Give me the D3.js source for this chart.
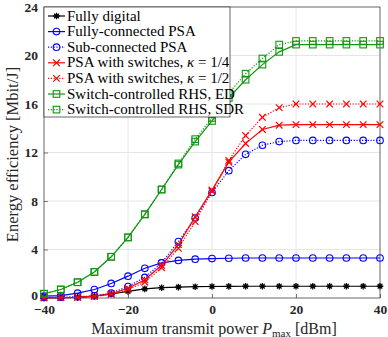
<!DOCTYPE html>
<html>
<head>
<meta charset="utf-8">
<script src="https://cdn.jsdelivr.net/npm/d3@7"></script>
<style>
  body { margin: 0; background: #fff; }
  svg { display: block; font-family: "Liberation Serif", "DejaVu Serif", serif; }
</style>
</head>
<body>
<div id="chart"></div>
<script>
'use strict';

// transmit power in dBm
var power = [-40, -36, -32, -28, -24, -20, -16, -12, -8, -4, 0, 4, 8, 12, 16, 20, 24, 28, 32, 36, 40];

var fullyDigital   = [0.0, 0.02, 0.05, 0.15, 0.33, 0.55, 0.75, 0.85, 0.9, 0.93, 0.95, 0.96, 0.97, 0.97, 0.97, 0.97, 0.97, 0.97, 0.97, 0.97, 0.97];
var fullyConnPSA   = [0.15, 0.2, 0.4, 0.7, 1.2, 1.8, 2.45, 2.9, 3.1, 3.2, 3.25, 3.28, 3.3, 3.3, 3.3, 3.3, 3.3, 3.3, 3.3, 3.3, 3.3];
var subConnPSA     = [0.05, 0.07, 0.1, 0.18, 0.4, 0.95, 1.7, 2.9, 4.65, 6.6, 8.7, 10.5, 11.85, 12.6, 12.9, 13.0, 13.0, 13.0, 13.0, 13.0, 13.0];
var switchQuarter  = [0.02, 0.03, 0.05, 0.15, 0.35, 0.8, 1.5, 2.7, 4.4, 6.7, 8.9, 11.2, 12.75, 13.9, 14.25, 14.3, 14.3, 14.3, 14.3, 14.3, 14.3];
var switchHalf     = [0.02, 0.03, 0.05, 0.13, 0.3, 0.7, 1.3, 2.5, 4.1, 6.3, 8.8, 11.35, 13.4, 14.9, 15.7, 16.0, 16.0, 16.0, 16.0, 16.0, 16.0];
var rhsED          = [0.35, 0.7, 1.3, 2.15, 3.4, 5.0, 6.9, 8.95, 11.0, 12.9, 14.6, 16.5, 18.0, 19.25, 20.3, 20.9, 20.9, 20.9, 20.9, 20.9, 20.9];
var rhsSDR         = [0.35, 0.7, 1.3, 2.15, 3.4, 5.0, 6.9, 8.95, 11.1, 13.1, 14.85, 16.9, 18.5, 19.75, 20.9, 21.2, 21.2, 21.2, 21.2, 21.2, 21.2];

var xTicks = [-40, -20, 0, 20, 40];
var yTicks = [0, 4, 8, 12, 16, 20, 24];

var green = '#129612';

var series = [
    { name: 'Fully digital', values: fullyDigital, color: '#000', dash: null, marker: 'star' },
    { name: 'Fully-connected PSA', values: fullyConnPSA, color: '#0000ff', dash: null, marker: 'circle' },
    { name: 'Sub-connected PSA', values: subConnPSA, color: '#0000ff', dash: '1.2,1.6', marker: 'circle' },
    { name: 'PSA with switches, ', kappa: '1/4', values: switchQuarter, color: '#ff0000', dash: null, marker: 'cross' },
    { name: 'PSA with switches, ', kappa: '1/2', values: switchHalf, color: '#ff0000', dash: '1.2,1.6', marker: 'cross' },
    { name: 'Switch-controlled RHS, ED', values: rhsED, color: green, dash: null, marker: 'square' },
    { name: 'Switch-controlled RHS, SDR', values: rhsSDR, color: green, dash: '1.2,1.6', marker: 'square' }
];

var W = 388, H = 337;
var margin = { top: 7, right: 8, bottom: 39, left: 44 };

var svg = d3.select('#chart').append('svg')
    .attr('width', W)
    .attr('height', H);

var x = d3.scaleLinear().domain([-40, 40]).range([margin.left, W - margin.right]);
var y = d3.scaleLinear().domain([0, 24]).range([H - margin.bottom, margin.top]);

// grid
svg.append('g').selectAll('line.gx')
    .data(xTicks.slice(1, -1))
    .enter().append('line')
    .attr('x1', function (d) { return x(d); })
    .attr('x2', function (d) { return x(d); })
    .attr('y1', y(0)).attr('y2', y(24))
    .attr('stroke', '#e6e6e6').attr('stroke-width', 1);

svg.append('g').selectAll('line.gy')
    .data(yTicks.slice(1, -1))
    .enter().append('line')
    .attr('y1', function (d) { return y(d); })
    .attr('y2', function (d) { return y(d); })
    .attr('x1', x(-40)).attr('x2', x(40))
    .attr('stroke', '#e6e6e6').attr('stroke-width', 1);

// axes
var xAxis = svg.append('g')
    .attr('transform', 'translate(0,' + y(0) + ')')
    .call(d3.axisBottom(x).tickValues(xTicks).tickSizeInner(-4).tickSizeOuter(0).tickPadding(6));
var yAxis = svg.append('g')
    .attr('transform', 'translate(' + x(-40) + ',0)')
    .call(d3.axisLeft(y).tickValues(yTicks).tickSizeInner(-4).tickSizeOuter(0).tickPadding(6));

[xAxis, yAxis].forEach(function (ax) {
    ax.select('.domain').remove();
    ax.selectAll('line').attr('stroke', '#262626').attr('stroke-width', 0.6);
    ax.selectAll('text')
        .attr('font-family', '"Liberation Serif", serif')
        .attr('font-weight', 'bold')
        .attr('font-size', 13.5)
        .attr('fill', '#262626');
});
yAxis.selectAll('text').attr('dy', function (d) { return d === 0 ? '0.12em' : '0.3em'; });

// frame
svg.append('rect')
    .attr('x', x(-40)).attr('y', y(24))
    .attr('width', x(40) - x(-40)).attr('height', y(0) - y(24))
    .attr('fill', 'none').attr('stroke', '#262626').attr('stroke-width', 0.7);

svg.append('defs').append('clipPath').attr('id', 'plotclip')
    .append('rect')
    .attr('x', x(-40) - 6).attr('y', y(24) - 6)
    .attr('width', x(40) - x(-40) + 12).attr('height', y(0) - y(24) + 12);

function drawMarker(g, type, cx, cy, color) {
    var s = 3.3;
    if (type === 'circle') {
        g.append('circle').attr('cx', cx).attr('cy', cy).attr('r', s)
            .attr('fill', 'none').attr('stroke', color).attr('stroke-width', 1.1);
    } else if (type === 'square') {
        g.append('rect').attr('x', cx - s).attr('y', cy - s).attr('width', 2 * s).attr('height', 2 * s)
            .attr('fill', 'none').attr('stroke', color).attr('stroke-width', 1.1);
    } else if (type === 'cross') {
        g.append('path')
            .attr('d', 'M' + (cx - s) + ',' + (cy - s) + 'L' + (cx + s) + ',' + (cy + s) +
                'M' + (cx - s) + ',' + (cy + s) + 'L' + (cx + s) + ',' + (cy - s))
            .attr('stroke', color).attr('stroke-width', 1.2);
    } else if (type === 'star') {
        var p = '';
        [0, 45, 90, 135].forEach(function (a) {
            var r = a * Math.PI / 180;
            p += 'M' + (cx - s * Math.cos(r)) + ',' + (cy - s * Math.sin(r)) +
                'L' + (cx + s * Math.cos(r)) + ',' + (cy + s * Math.sin(r));
        });
        g.append('path').attr('d', p).attr('stroke', color).attr('stroke-width', 1.3);
    }
}

var line = d3.line()
    .x(function (d, i) { return x(power[i]); })
    .y(function (d) { return y(d); });

var plot = svg.append('g').attr('clip-path', 'url(#plotclip)');

series.forEach(function (s) {
    var g = plot.append('g');
    g.append('path')
        .attr('d', line(s.values))
        .attr('fill', 'none')
        .attr('stroke', s.color)
        .attr('stroke-width', 1.2)
        .attr('stroke-dasharray', s.dash);
    s.values.forEach(function (v, i) {
        drawMarker(g, s.marker, x(power[i]), y(v), s.color);
    });
});

// legend
var lg = svg.append('g');
var lgX = x(-40), lgY = y(24);
lg.append('rect')
    .attr('x', lgX).attr('y', lgY)
    .attr('width', 186).attr('height', 110)
    .attr('fill', '#fff').attr('stroke', '#262626').attr('stroke-width', 0.7);

series.forEach(function (s, i) {
    var cy = lgY + 9 + i * 15.6;
    lg.append('line')
        .attr('x1', lgX + 4).attr('x2', lgX + 21)
        .attr('y1', cy).attr('y2', cy)
        .attr('stroke', s.color).attr('stroke-width', 1.2)
        .attr('stroke-dasharray', s.dash);
    drawMarker(lg, s.marker, lgX + 12.5, cy, s.color);
    var t = lg.append('text')
        .attr('x', lgX + 23).attr('y', cy + 4.5)
        .attr('font-size', 15)
        .attr('fill', '#000');
    t.append('tspan').text(s.name);
    if (s.kappa) {
        t.append('tspan').attr('font-style', 'italic').text('\u03ba');
        t.append('tspan').text(' = ' + s.kappa);
    }
});

// axis labels
var xl = svg.append('text')
    .attr('x', (x(-40) + x(40)) / 2 + 2)
    .attr('y', 334)
    .attr('text-anchor', 'middle')
    .attr('font-size', 16)
    .attr('fill', '#262626');
xl.append('tspan').text('Maximum transmit power ');
xl.append('tspan').attr('font-style', 'italic').text('P');
xl.append('tspan').attr('font-size', 11).attr('dy', 2.5).text('max');
xl.append('tspan').attr('dy', -2.5).text(' [dBm]');

svg.append('text')
    .attr('transform', 'translate(18,' + ((y(0) + y(24)) / 2 + 2) + ') rotate(-90)')
    .attr('text-anchor', 'middle')
    .attr('font-size', 16.5)
    .attr('fill', '#262626')
    .text('Energy efficiency [Mbit/J]');
</script>
</body>
</html>
